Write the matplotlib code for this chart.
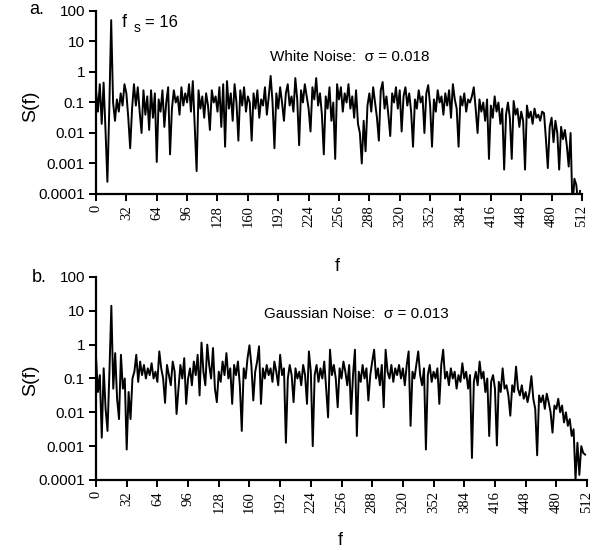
import numpy as np
import matplotlib
matplotlib.use("Agg")
import matplotlib.pyplot as plt

plt.rcParams['font.family'] = ['Liberation Sans', 'DejaVu Sans']

# frequency bins (every second bin)
freq = list(range(0, 512, 2))

# log10 S(f), panel a (white noise), 16 values per 32 f
white_log = [
    -0.6, -1.3, -0.4, -1.7, -0.35, -1.9, -3.6, -1.2, 1.7, -1.0, -1.6, -0.9, -1.3, -0.7, -1.1, -0.4,
    -0.7, -1.5, -2.5, -1.2, -0.4, -1.1, -0.5, -1.3, -2.0, -0.6, -1.4, -0.8, -1.9, -0.6, -1.5, -0.7,
    -2.95, -0.9, -1.3, -0.6, -1.8, -1.0, -0.5, -2.7, -1.2, -0.6, -1.0, -0.8, -1.4, -0.5, -1.1, -0.7,
    -1.0, -0.4, -1.3, -0.3, -1.8, -3.25, -0.6, -1.2, -0.8, -1.5, -0.7, -1.1, -1.9, -0.6, -1.0, -0.8,
    -1.3, -0.5, -1.8, -0.4, -2.45, -0.3, -1.2, -0.7, -1.6, -0.4, -1.0, -2.25, -0.6, -1.1, -0.5, -1.3,
    -0.8, -1.0, -2.25, -0.7, -1.2, -0.6, -1.5, -0.9, -1.1, -0.5, -1.4, -0.8, -0.13, -1.0, -2.5, -0.7,
    -1.2, -0.5, -1.0, -1.6, -0.7, -0.4, -1.1, -0.8, -1.3, -0.2, -0.9, -2.4, -0.6, -1.0, -0.4, -0.8,
    -1.2, -1.95, -0.5, -0.9, -0.2, -1.1, -0.7, -1.4, -2.7, -0.8, -1.2, -0.5, -1.6, -1.0, -2.85, -0.4,
    -0.9, -0.5, -1.3, -0.7, -1.0, -0.4, -1.2, -0.8, -1.5, -0.6, -1.7, -2.0, -3.0, -1.6, -2.6, -1.1,
    -0.7, -1.3, -0.5, -1.0, -1.5, -2.25, -0.6, -0.33, -1.2, -0.8, -1.4, -2.1, -0.7, -1.0, -0.5, -1.2,
    -0.6, -1.95, -0.8, -0.5, -1.1, -0.7, -1.3, -2.45, -0.9, -1.2, -0.6, -1.0, -0.8, -2.0, -0.7, -0.43,
    -1.1, -2.45, -0.9, -1.3, -0.6, -1.0, -0.8, -1.4, -0.7, -1.1, -0.6, -1.5, -0.4, -0.9, -1.2, -2.45,
    -0.8, -1.1, -0.7, -1.3, -0.9, -1.0, -0.8, -0.5, -1.2, -2.0, -0.9, -1.3, -1.0, -1.6, -0.9, -2.85,
    -1.1, -1.5, -0.8, -1.3, -1.0, -1.7, -1.2, -3.2, -1.4, -1.0, -1.5, -2.85, -0.95, -1.4, -1.2, -1.8,
    -1.3, -1.6, -3.2, -1.1, -1.5, -1.3, -1.7, -1.2, -1.5, -1.4, -1.6, -1.3, -1.35, -2.2, -3.15, -1.8,
    -1.5, -2.3, -1.6, -2.0, -3.2, -1.8, -2.2, -1.9, -2.4, -3.1, -2.0, -4.5, -3.5, -3.7, -4.3, -3.9,
]

# log10 S(f), panel b (gaussian noise)
gauss_log = [
    -0.35, -1.4, -0.9, -2.75, -0.7, -1.9, -2.55, -0.8, 1.15, -1.3, -0.25, -1.6, -2.2, -0.3, -1.3, -1.0,
    -3.1, -1.4, -2.2, -1.0, -0.8, -0.3, -1.1, -0.5, -0.9, -0.6, -1.0, -0.7, -0.9, -0.55, -1.0, -0.8,
    -1.1, -0.2, -0.7, -1.0, -1.72, -0.6, -0.9, -1.2, -0.5, -0.8, -2.05, -1.3, -0.6, -1.0, -0.4, -1.75,
    -1.0, -0.7, -1.2, -0.5, -0.9, -0.3, -1.5, 0.06, -0.8, -1.2, 0.0, -0.6, -1.0, -0.1, -1.3, -1.7,
    -0.8, -1.1, -0.5, -0.9, -0.25, -1.0, -0.7, -1.75, -0.6, -0.9, -0.5, -1.2, -2.55, -0.7, -1.0, -0.4,
    -0.02, -0.6, -1.65, -0.8, -0.5, -0.05, -1.75, -0.7, -1.0, -0.6, -0.9, -0.7, -1.1, -0.5, -0.8, -1.2,
    -0.3, -0.9, -0.7, -2.9, -1.0, -0.6, -0.9, -1.7, -0.7, -1.0, -0.8, -1.2, -0.6, -0.9, -1.75, -0.2,
    -0.8, -3.0, -0.9, -0.6, -1.1, -0.7, -1.0, -0.5, -1.3, -2.15, -0.15, -0.9, -0.6, -1.0, -1.85, -0.7,
    -1.0, -0.5, -0.8, -1.2, -0.6, -2.05, -0.9, -0.15, -2.7, -0.8, -1.1, -0.6, -1.0, -0.7, -1.65, -0.9,
    -0.5, -0.15, -1.0, -0.7, -1.2, -0.6, -1.85, -0.15, -0.8, -1.0, -0.6, -1.1, -0.7, -0.9, -0.6, -1.0,
    -0.7, -1.2, -0.6, -0.2, -2.4, -0.8, -1.0, -0.6, -0.2, -0.9, -1.2, -0.7, -3.1, -0.9, -0.6, -1.1,
    -0.8, -1.0, -0.7, -1.75, -0.6, -0.15, -1.0, -0.8, -1.2, -0.7, -1.0, -0.8, -1.3, -0.9, -1.1, -0.55,
    -1.0, -0.8, -1.3, -0.9, -3.35, -1.1, -0.8, -1.2, -0.5, -1.0, -0.8, -1.4, -1.0, -2.7, -1.1, -0.9,
    -1.3, -2.98, -1.1, -1.4, -0.7, -1.3, -1.2, -1.5, -2.1, -1.2, -1.4, -0.65, -1.3, -1.5, -1.2, -1.6,
    -1.4, -1.7, -1.4, -0.93, -1.6, -1.9, -3.27, -1.5, -1.7, -1.5, -1.9, -1.45, -1.7, -2.0, -2.6, -1.8,
    -1.9, -1.6, -2.0, -1.8, -2.3, -2.0, -2.4, -2.2, -2.7, -2.5, -3.98, -2.9, -3.85, -3.0, -3.2, -3.25,
]

xticks = list(range(0, 513, 32))
yticks = [1e-4, 1e-3, 1e-2, 1e-1, 1, 10, 100]
ytick_labels = ['0.0001', '0.001', '0.01', '0.1', '1', '10', '100']

fig = plt.figure(figsize=(6.08, 5.5), dpi=100)
ax_a = fig.add_axes([0.1579, 0.6473, 0.7993, 0.3327])
ax_b = fig.add_axes([0.1579, 0.1273, 0.8076, 0.3691])


def style_axis(ax):
    ax.set_yscale('log')
    ax.set_xlim(0, 512)
    ax.set_ylim(1e-4, 100)
    ax.spines['top'].set_visible(False)
    ax.spines['right'].set_visible(False)
    for s in ('left', 'bottom'):
        ax.spines[s].set_linewidth(1.6)
    ax.set_yticks(yticks)
    ax.set_yticklabels(ytick_labels, fontsize=11)
    ax.yaxis.set_minor_locator(matplotlib.ticker.NullLocator())
    ax.set_xticks(xticks)
    ax.set_xticklabels([str(t) for t in xticks], rotation=90,
                       fontsize=10.5, family='Liberation Serif')
    ax.tick_params(direction='out', length=5, width=1.4, pad=3)
    ax.set_ylabel('S(f)', fontsize=14)
    ax.set_xlabel('f', fontsize=13)


for ax, vals in ((ax_a, white_log), (ax_b, gauss_log)):
    ax.plot(freq, 10 ** np.array(vals), color='black', lw=1.4)
    style_axis(ax)

# label positions in pixels of the 608x550 figure
ax_a.yaxis.set_label_coords(-0.118, 0.48)
ax_b.yaxis.set_label_coords(-0.116, 0.49)
ax_a.xaxis.set_label_coords(0.497, -0.35)
ax_b.xaxis.set_label_coords(0.498, -0.256)

ax_a.text(0.052, 0.935, 'f', transform=ax_a.transAxes, fontsize=13, va='center')
ax_a.text(0.077, 0.905, 's', transform=ax_a.transAxes, fontsize=10, va='center')
ax_a.text(0.100, 0.935, '= 16', transform=ax_a.transAxes, fontsize=12, va='center')
ax_a.text(0.358, 0.749, 'White Noise:  σ = 0.018', transform=ax_a.transAxes,
          fontsize=11, va='center')
ax_b.text(0.342, 0.818, 'Gaussian Noise:  σ = 0.013', transform=ax_b.transAxes,
          fontsize=11, va='center')

fig.text(29 / 608, 1 - 10 / 550, 'a.', fontsize=13, va='center')
fig.text(32 / 608, 1 - 277 / 550, 'b.', fontsize=13, va='center')

fig.savefig('out.png', dpi=100)
